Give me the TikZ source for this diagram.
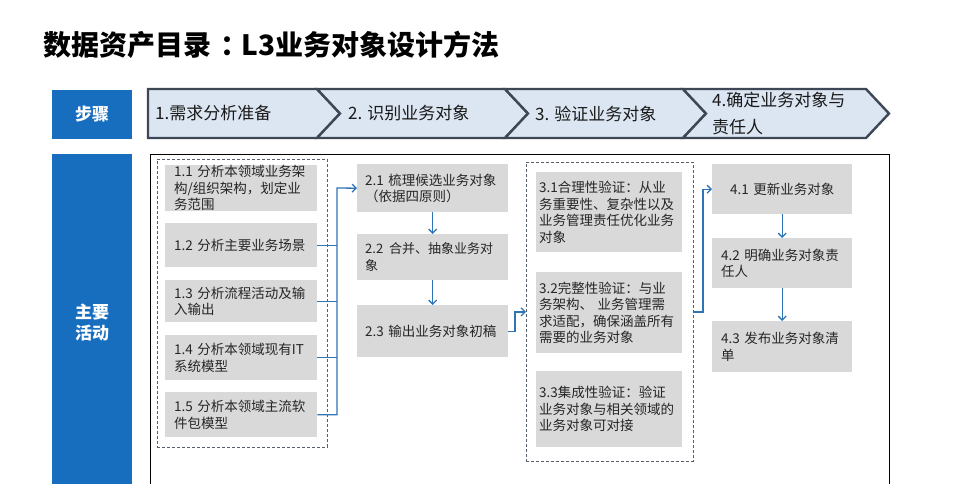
\documentclass[tikz,border=0pt]{standalone}
\usepackage{fontspec}
\setmainfont{Noto Sans CJK SC}
\usetikzlibrary{arrows.meta}
\definecolor{c1}{HTML}{176EBE}
\definecolor{c2}{HTML}{DCE6F2}
\definecolor{c3}{HTML}{3E4756}
\definecolor{boxgray}{HTML}{D9D9D9}
\definecolor{linkblue}{HTML}{2E75B6}
\definecolor{dashcolor}{HTML}{56606C}
\definecolor{textcolor}{HTML}{262626}

\begin{document}
\begin{tikzpicture}[
    x=1pt, y=-1pt,
    every node/.style={text=textcolor},
    tagbox/.style={fill=c1, text=white, font=\bfseries\fontsize{17}{21}\selectfont, align=center, inner sep=0pt},
    chev/.style={fill=c2, draw=c3, line width=2.4pt, line join=miter},
    steptxt/.style={font=\fontsize{17}{27}\selectfont, align=left, inner sep=0pt, text=black!90},
    act/.style={fill=boxgray, font=\fontsize{13.5}{16.5}\selectfont, align=left, anchor=north west, inner ysep=0pt},
    grp/.style={draw=dashcolor, line width=0.8pt, dash pattern=on 3pt off 2pt, anchor=north west, inner sep=0pt},
    link/.style={draw=linkblue, line width=1.3pt},
    flow/.style={link, -{Straight Barb[length=4pt, width=8pt]}},
]
\clip (0,0) rectangle (960,483);

% one chevron: left #1, right #2, notch depth #3
\newcommand{\chevron}[3]{%
  \filldraw[chev] (#1,89) -- (#2,89) -- (#2+23,113.5) -- (#2,138)
      -- (#1,138) -- (#1+#3,113.5) -- cycle;}

\node[anchor=west, text=black, font=\bfseries\fontsize{28}{32}\selectfont] (title) at (40,44.5)
     {数据资产目录\kern9pt：\kern-7pt L3业务对象设计方法};

% the step row
\node[tagbox, minimum width=80, minimum height=49] (steps) at (92,114) {步骤};
\chevron{148}{317}{0}
\chevron{317}{505}{23}
\chevron{505}{683}{23}
\chevron{683}{866}{23}
\node[steptxt, anchor=west] (s1) at (155,113.5) {1.需求分析准备};
\node[steptxt, anchor=west] (s2) at (348,113.5) {2. 识别业务对象};
\node[steptxt, anchor=west] (s3) at (535,113.5) {3. 验证业务对象};
\node[steptxt, anchor=west] (s4) at (712,113.5) {4.确定业务对象与\\责任人};

% the activity area
\node[tagbox, anchor=north, minimum width=80, minimum height=336] (acts) at (92,154) {主要\\活动};
\draw[black, line width=1pt] (150,154) rectangle (889,500);

\node[grp, minimum width=170, minimum height=288] (d1) at (157,159) {};
\node[grp, minimum width=167, minimum height=299] (d3) at (526,162) {};

\node[act, minimum width=152, minimum height=45, text width=134, inner xsep=9pt] (b11) at (165,165)
     {1.1 分析本领域业务架\\构/组织架构，划定业\\务范围};
\node[act, minimum width=152, minimum height=44, text width=134, inner xsep=9pt] (b12) at (165,223)
     {1.2 分析主要业务场景};
\node[act, minimum width=152, minimum height=42, text width=134, inner xsep=9pt] (b13) at (165,280)
     {1.3 分析流程活动及输\\入输出};
\node[act, minimum width=152, minimum height=45, text width=134, inner xsep=9pt] (b14) at (165,335)
     {1.4 分析本领域现有IT\\系统模型};
\node[act, minimum width=152, minimum height=45, text width=134, inner xsep=9pt] (b15) at (165,392)
     {1.5 分析本领域主流软\\件包模型};

\node[act, minimum width=151, minimum height=48, text width=135, inner xsep=8pt] (b21) at (357,164)
     {2.1 梳理候选业务对象\\（依据四原则）};
\node[act, minimum width=151, minimum height=46, text width=135, inner xsep=8pt,
      font=\fontsize{13}{16.5}\selectfont] (b22) at (357,234)
     {2.2\kern6pt 合并、抽象业务对\\象};
\node[act, minimum width=151, minimum height=52, text width=135, inner xsep=8pt] (b23) at (357,305)
     {2.3 输出业务对象初稿};

\node[act, minimum width=146, minimum height=80, text width=140, inner xsep=3pt] (b31) at (536,172)
     {3.1合理性验证：从业\\务重要性、复杂性以及\\业务管理责任优化业务\\对象};
\node[act, minimum width=146, minimum height=81, text width=140, inner xsep=3pt] (b32) at (536,272)
     {3.2完整性验证：与业\\务架构、\ 业务管理需\\求适配，确保涵盖所有\\需要的业务对象};
\node[act, minimum width=146, minimum height=76, text width=140, inner xsep=3pt] (b33) at (536,371)
     {3.3集成性验证：验证\\业务对象与相关领域的\\业务对象可对接};

\node[act, minimum width=140, minimum height=50, text width=122, inner xsep=9pt, align=center] (b41) at (712,164)
     {4.1 更新业务对象};
\node[act, minimum width=140, minimum height=50, text width=122, inner xsep=9pt] (b42) at (712,238)
     {4.2 明确业务对象责\\任人};
\node[act, minimum width=140, minimum height=51, text width=122, inner xsep=9pt] (b43) at (712,321)
     {4.3 发布业务对象清\\单};

% connectors
\coordinate (bus1) at (337,188);
\coordinate (bus2) at (515,0);
\coordinate (bus3) at (703,0);
\draw[flow] (b15.east) -| (bus1) -- (b21.west);
\foreach \b in {b12,b13,b14}{
    \draw[link] (\b.east) -- (\b.east -| bus1);}
\draw[flow] (b21.south) -- (b22.north);
\draw[flow] (b22.south) -- (b23.north);
\draw[flow] (b23.east) -| (bus2 |- d3.west) -- (d3.west);
\draw[flow] (d3.east) -| (bus3 |- b41.west) -- (b41.west);
\draw[flow] (b41.south) -- (b42.north);
\draw[flow] (b42.south) -- (b43.north);
\end{tikzpicture}
\end{document}
